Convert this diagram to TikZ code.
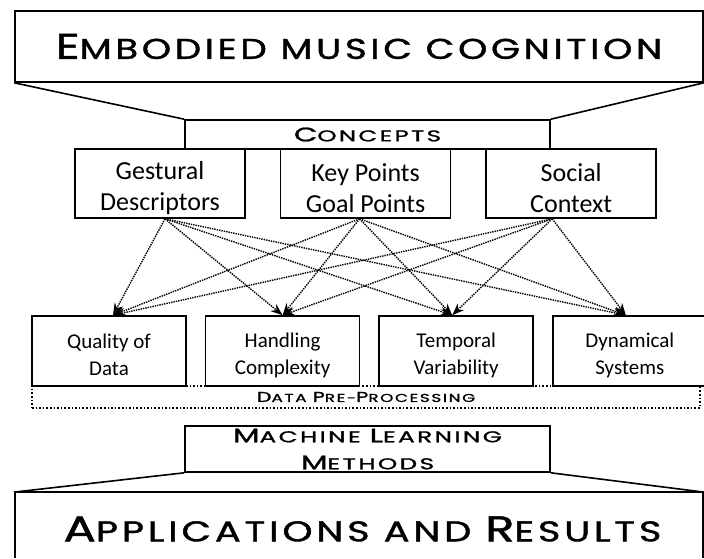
\documentclass[tikz,border=0pt]{standalone}
\usepackage{fontspec}
\usepackage{graphicx}
\setmainfont{Carlito}
\newfontfamily\headfont[LetterSpace=10, FakeBold=1.2]{Poppins}
\usetikzlibrary{positioning}
\usetikzlibrary{arrows.meta}

% first letter of a small-caps heading, and the stretched heading itself
\newcommand{\Up}[1]{\scalebox{1.25}{#1}}
\newcommand{\wide}[2][1.55]{\scalebox{#1}[1]{#2}}

\tikzset{
  box/.style={draw, line width=1.6pt, align=center, inner sep=0pt},
  concept/.style={box, minimum width=170pt, minimum height=69pt,
    label={[font=\fontsize{26}{31}\selectfont, align=center, yshift=-5pt]center:#1}},
  issue/.style={box, minimum width=154pt, minimum height=70pt,
    label={[font=\fontsize{21}{27}\selectfont, align=center, yshift=-4pt]center:#1}},
  link/.style={densely dotted, line width=1.4pt, -{Stealth[length=12pt,width=9pt]}},
}

\begin{document}
\begin{tikzpicture}[x=1pt, y=-1pt]
\useasboundingbox (0,0) rectangle (704,558);

% top of the funnel
\node[box, minimum width=688pt, minimum height=71pt] (embodied) at (359,46.5)
  {\fontsize{28.6}{30}\headfont\wide[1.3]{\Up{E}MBODIED MUSIC COGNITION}};
\node[box, minimum width=365pt, minimum height=29pt] (concepts) at (367.5,134.5)
  {\fontsize{15.7}{17}\headfont\wide{\Up{C}ONCEPTS}};
\draw[line width=1.6pt] (embodied.south west) -- (concepts.north west);
\draw[line width=1.6pt] (embodied.south east) -- (concepts.north east);

% concepts
\node[concept={Gestural\\Descriptors}] (gest) at (160,183.5) {};
\node[concept={Key Points\\Goal Points}, right=34pt of gest] (key) {};
\node[concept={Social\\Context}, right=34pt of key] (social) {};

% pre-processing
\node[box, dotted, minimum width=668pt, minimum height=22pt] (prep) at (366,397)
  {\fontsize{11.4}{12}\headfont\wide[1.47]{\Up{D}ATA \Up{P}RE-\Up{P}ROCESSING}};
\node[issue={Quality of\\Data}] (quality) at (109,351) {};
\node[issue={Handling\\Complexity}, right=18pt of quality] (handling) {};
\node[issue={Temporal\\Variability}, right=18pt of handling] (temporal) {};
\node[issue={Dynamical\\Systems}, right=18pt of temporal] (dynamic) {};

\draw[link] ([xshift=5pt]gest.south) -- ([xshift=4pt]quality.north);
\draw[link] ([xshift=5pt]gest.south) -- (handling.north);
\draw[link] ([xshift=5pt]gest.south) -- ([xshift=-4pt]temporal.north);
\draw[link] ([xshift=5pt]gest.south) -- ([xshift=-4pt]dynamic.north);
\draw[link] ([xshift=-6pt]key.south) -- ([xshift=4pt]quality.north);
\draw[link] ([xshift=-6pt]key.south) -- (handling.north);
\draw[link] ([xshift=-6pt]key.south) -- ([xshift=-4pt]temporal.north);
\draw[link] ([xshift=-6pt]key.south) -- ([xshift=-4pt]dynamic.north);
\draw[link] ([xshift=-19pt]social.south) -- ([xshift=4pt]quality.north);
\draw[link] ([xshift=-19pt]social.south) -- (handling.north);
\draw[link] ([xshift=-19pt]social.south) -- ([xshift=-4pt]temporal.north);
\draw[link] ([xshift=-19pt]social.south) -- ([xshift=-4pt]dynamic.north);

% bottom of the funnel
\node[box, minimum width=365pt, minimum height=46pt,
      font=\fontsize{15.7}{27}\selectfont\headfont] (methods) at (367.5,449)
  {\wide[1.57]{\Up{M}ACHINE \Up{L}EARNING}\\\wide[1.57]{\Up{M}ETHODS}};
\coordinate (resl) at (15,492);
\coordinate (resr) at (703,492);
\draw[line width=1.6pt] (15,558) -- (resl) -- (resr) -- (703,558);
\draw[line width=1.6pt] (methods.south west) -- (resl);
\draw[line width=1.6pt] (methods.south east) -- (resr);
\node (results) at (362.5,529)
  {\fontsize{28.6}{30}\headfont\wide[1.34]{\Up{A}PPLICATIONS AND \Up{R}ESULTS}};
\end{tikzpicture}
\end{document}
